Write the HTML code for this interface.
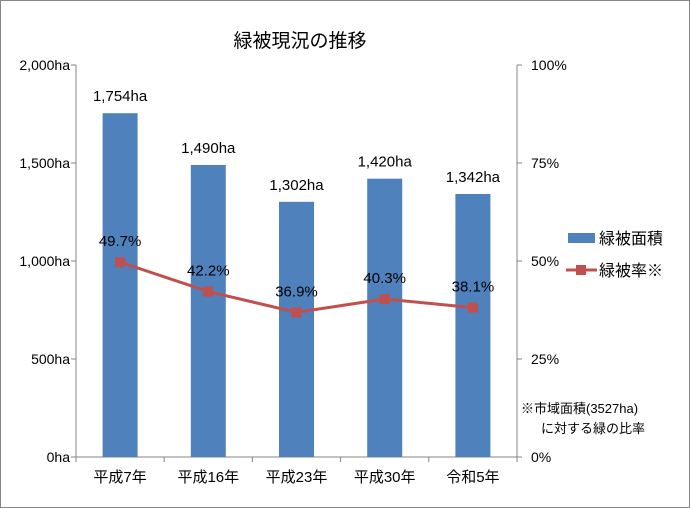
<!DOCTYPE html>
<html><head><meta charset="utf-8"><style>
html,body{margin:0;padding:0;background:#fff}
svg{display:block}
text{font-family:"Liberation Sans","Noto Sans CJK JP",sans-serif;fill:#000}
</style></head><body>
<svg width="690" height="508" viewBox="0 0 690 508">
<rect x="0.5" y="0.5" width="689" height="507" fill="#fff" stroke="#868686"/>
<text x="300" y="47" font-size="19" text-anchor="middle">緑被現況の推移</text>
<g id="axes"></g>
<g id="bars"></g>
<g id="line"></g>
<g>
<rect x="568" y="233" width="27" height="10" fill="#4f81bd"/>
<text x="599" y="244" font-size="16">緑被面積</text>
<line x1="566" y1="270" x2="597" y2="270" stroke="#c0504d" stroke-width="3"/>
<rect x="576" y="265" width="10" height="10" fill="#c0504d"/>
<text x="599" y="276" font-size="16">緑被率※</text>
</g>
<text x="521" y="413" font-size="13">※市域面積(3527ha)</text>
<text x="541" y="433" font-size="13">に対する緑の比率</text>
</svg>
<script>
const categories=["平成7年","平成16年","平成23年","平成30年","令和5年"];
const areaValues=[1754,1490,1302,1420,1342];
const rateValues=[49.7,42.2,36.9,40.3,38.1];
const leftTicks=[0,500,1000,1500,2000];
const leftTickLabels=["0ha","500ha","1,000ha","1,500ha","2,000ha"];
const rightTicks=[0,25,50,75,100];
const rightTickLabels=["0%","25%","50%","75%","100%"];
const NS="http://www.w3.org/2000/svg";
const L=76,R=517,T=65,B=457;
const yA=v=>B-(v/2000)*(B-T);
const yR=v=>B-(v/100)*(B-T);
const step=(R-L)/categories.length;
const xC=i=>L+step*(i+0.5);
function mk(tag,attrs,parent,txt){const e=document.createElementNS(NS,tag);for(const k in attrs)e.setAttribute(k,attrs[k]);if(txt!==undefined)e.textContent=txt;document.getElementById(parent).appendChild(e);return e;}
let e=mk('line',{x1:L,y1:T,x2:L,y2:B,stroke:'#868686'},'axes');


e=mk('line',{x1:R,y1:T,x2:R,y2:B,stroke:'#868686'},'axes');


e=mk('line',{x1:L,y1:B,x2:R,y2:B,stroke:'#868686'},'axes');


leftTicks.forEach((v,i)=>{
  mk('line',{x1:L-5,y1:yA(v),x2:L,y2:yA(v),stroke:'#868686'},'axes');
  const t=mk('text',{x:L-6,y:yA(v)+5,'font-size':14,'text-anchor':'end'},'axes',leftTickLabels[i]);
  
  
});
rightTicks.forEach((v,i)=>{
  mk('line',{x1:R,y1:yR(v),x2:R+5,y2:yR(v),stroke:'#868686'},'axes');
  const t=mk('text',{x:R+14,y:yR(v)+5,'font-size':14},'axes',rightTickLabels[i]);
  
  
});
for(let i=0;i<=categories.length;i++){mk('line',{x1:L+step*i,y1:B,x2:L+step*i,y2:B+5,stroke:'#868686'},'axes');}
categories.forEach((c,i)=>{
  const t=mk('text',{x:xC(i),y:B+25,'font-size':15,'text-anchor':'middle'},'axes',c);
  
  
});
const bw=35;
areaValues.forEach((v,i)=>{
  const r=mk('rect',{x:xC(i)-bw/2,y:yA(v),width:bw,height:B-yA(v),fill:'#4f81bd'},'bars');
  
  
  const t=mk('text',{x:xC(i),y:yA(v)-12,'font-size':15,'text-anchor':'middle'},'bars',v.toLocaleString('en-US')+'ha');
  
  
});
const pl=mk('polyline',{points:rateValues.map((v,i)=>xC(i)+','+yR(v)).join(' '),fill:'none',stroke:'#c0504d','stroke-width':3},'line');


rateValues.forEach((v,i)=>{
  const m=mk('rect',{x:xC(i)-5,y:yR(v)-5,width:10,height:10,fill:'#c0504d'},'line');
  
  
  const t=mk('text',{x:xC(i),y:yR(v)-16,'font-size':15,'text-anchor':'middle'},'line',v.toFixed(1)+'%');
  
  
});
</script>
</body></html>
